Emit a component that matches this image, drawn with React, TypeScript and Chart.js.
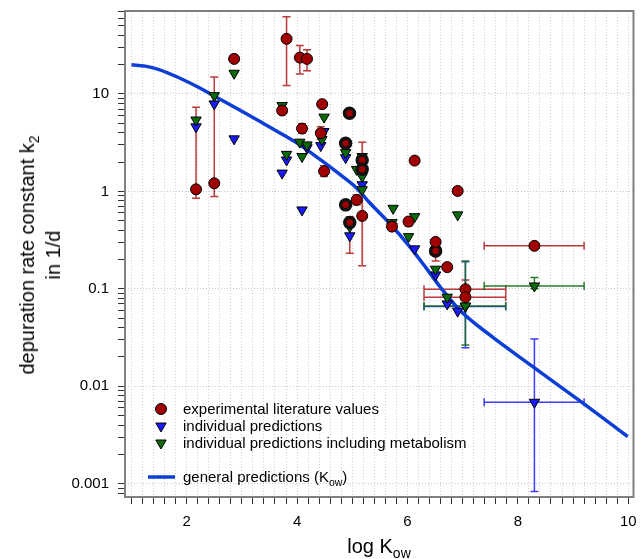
import React, { useEffect, useRef } from "react";
import { Chart, registerables } from "chart.js";
Chart.register(...registerables);

// ---------- data ----------
// experimental literature values (red circles)
const expX = [2.17, 2.5, 2.86, 3.73, 3.81, 4.05, 4.18, 4.09, 4.455, 4.43, 4.49, 5.08, 5.18, 5.72, 6.02, 6.13, 6.91, 6.51, 6.72, 7.05, 7.05, 8.3];
const expY = [1.05, 1.21, 22.9, 6.76, 36.8, 23.6, 22.9, 4.41, 7.86, 3.96, 1.61, 0.818, 0.56, 0.435, 0.49, 2.07, 1.01, 0.303, 0.167, 0.099, 0.082, 0.276];
const expYLo = [0.85, 0.885, null, null, 12.2, 16.0, 17.3, 3.95, null, 3.4, 1.42, 0.73, 0.172, 0.4, 0.44, null, null, null, null, 0.08, null, null];
const expYHi = [7.3, 14.9, null, null, 62, 31.4, 28.4, 4.95, null, 4.6, 1.83, 0.92, 3.2, 0.5, 0.54, null, null, null, null, 0.123, null, null];
const expXLo = [null, null, null, null, null, null, null, null, null, null, null, null, null, null, null, null, null, null, null, 6.3, 6.3, 7.39];
const expXHi = [null, null, null, null, null, null, null, null, null, null, null, null, null, null, null, null, null, null, null, 7.78, 7.78, 9.2];

// experimental values drawn as overlapping (dark) circles
const expDarkX = [4.95, 4.88, 4.88, 4.955, 5.18, 5.18, 6.51];
const expDarkY = [6.35, 3.12, 0.727, 0.478, 2.1, 1.69, 0.245];
const expDarkYLo = [null, null, null, 0.232, null, null, 0.193];
const expDarkYHi = [null, null, null, 0.55, null, null, 0.3];

// individual predictions (blue triangles)
const predX = [2.17, 2.5, 2.86, 3.73, 3.81, 4.09, 4.18, 4.43, 4.485, 4.88, 4.955, 5.18, 5.72, 6.13, 6.51, 6.72, 6.91, 7.05, 8.3];
const predY = [4.6, 7.9, 3.46, 1.54, 2.1, 0.645, 2.8, 2.95, 4.11, 2.22, 0.35, 1.17, 0.44, 0.257, 0.139, 0.07, 0.059, 0.066, 0.00685];
const predYLo = [null, null, null, null, null, null, null, null, null, null, null, null, null, null, null, null, null, 0.0249, 0.00083];
const predYHi = [null, null, null, null, null, null, null, null, null, null, null, null, null, null, null, null, null, 0.19, 0.0306];
const predXLo = [null, null, null, null, null, null, null, null, null, null, null, null, null, null, null, null, null, 6.3, 7.39];
const predXHi = [null, null, null, null, null, null, null, null, null, null, null, null, null, null, null, null, null, 7.78, 9.2];

// individual predictions including metabolism (green triangles)
const metX = [2.17, 2.5, 2.86, 3.73, 3.81, 4.05, 4.18, 4.09, 4.49, 4.45, 4.88, 4.955, 5.08, 5.18, 5.18, 5.18, 5.74, 5.72, 6.13, 6.02, 6.91, 6.51, 6.72, 7.05, 8.3];
const metY = [5.4, 9.6, 16.3, 7.6, 2.4, 3.2, 3.0, 2.28, 5.78, 3.4, 2.5, 0.435, 1.68, 2.28, 1.42, 1.04, 0.67, 0.478, 0.55, 0.343, 0.574, 0.159, 0.082, 0.0667, 0.107];
const metYLo = [null, null, null, null, null, null, null, null, null, null, null, null, null, null, null, null, null, null, null, null, null, null, null, 0.0265, 0.1];
const metYHi = [null, null, null, null, null, null, null, null, null, null, null, null, null, null, null, null, null, null, null, null, null, null, null, 0.193, 0.131];
const metXLo = [null, null, null, null, null, null, null, null, null, null, null, null, null, null, null, null, null, null, null, null, null, null, null, 6.3, 7.39];
const metXHi = [null, null, null, null, null, null, null, null, null, null, null, null, null, null, null, null, null, null, null, null, null, null, null, 7.78, 9.2];

// general predictions (Kow) curve
const curveX = [1.0, 1.25, 1.5, 1.88, 2.24, 2.48, 2.96, 3.33, 3.69, 4.05, 4.41, 4.77, 5.08, 5.32, 5.68, 6.04, 6.34, 6.59, 6.94, 7.49, 8.27, 9.18, 9.99];
const curveY = [19.9, 19.3, 17.8, 14.5, 11.5, 9.66, 6.84, 5.21, 3.98, 3.0, 2.14, 1.5, 1.08, 0.759, 0.468, 0.271, 0.163, 0.105, 0.061, 0.0336, 0.0159, 0.0067, 0.00304];

// axes
const xMin = 0.883;
const xMax = 10.095;
const yMin = 0.00073;
const yMax = 71;
const xTickValues = [2, 4, 6, 8, 10];
const xTickLabels = ["2", "4", "6", "8", "10"];
const yTickValues = [0.001, 0.01, 0.1, 1, 10];
const yTickLabels = ["0.001", "0.01", "0.1", "1", "10"];

// ---------- styles ----------
const RED = "#a00000";
const BLUE = "#1a1aff";
const GREEN = "#0b6b0b";
const CURVE = "#0d3fd6";
const FONT = "'Liberation Sans', Arial, sans-serif";

const pts = (xs: number[], ys: number[]) => xs.map((x, i) => ({ x, y: ys[i] }));

const errorBarPlugin = {
  id: "errorBars",
  beforeDatasetsDraw(chart: any) {
    const { ctx, scales } = chart;
    const xs = scales.x;
    const ys = scales.y;
    const cap = 4;
    chart.data.datasets.forEach((ds: any) => {
      const e = ds.errorBars;
      if (!e) return;
      ctx.save();
      ctx.strokeStyle = e.color;
      ctx.lineWidth = 1.5;
      ds.data.forEach((p: any, i: number) => {
        const px = xs.getPixelForValue(p.x);
        const py = ys.getPixelForValue(p.y);
        const lo = e.yLo ? e.yLo[i] : null;
        const hi = e.yHi ? e.yHi[i] : null;
        if (lo != null && hi != null) {
          const a = ys.getPixelForValue(lo);
          const b = ys.getPixelForValue(hi);
          ctx.beginPath();
          ctx.moveTo(px, a); ctx.lineTo(px, b);
          ctx.moveTo(px - cap, a); ctx.lineTo(px + cap, a);
          ctx.moveTo(px - cap, b); ctx.lineTo(px + cap, b);
          ctx.stroke();
        }
        const xl = e.xLo ? e.xLo[i] : null;
        const xh = e.xHi ? e.xHi[i] : null;
        if (xl != null && xh != null) {
          const a = xs.getPixelForValue(xl);
          const b = xs.getPixelForValue(xh);
          ctx.beginPath();
          ctx.moveTo(a, py); ctx.lineTo(b, py);
          ctx.moveTo(a, py - cap); ctx.lineTo(a, py + cap);
          ctx.moveTo(b, py - cap); ctx.lineTo(b, py + cap);
          ctx.stroke();
        }
      });
      ctx.restore();
    });
  },
  afterDraw(chart: any) {
    const { ctx, chartArea: a } = chart;
    ctx.save();
    ctx.strokeStyle = "#808080";
    ctx.lineWidth = 2;
    ctx.strokeRect(a.left, a.top, a.right - a.left, a.bottom - a.top);
    ctx.restore();
  },
};

const isDecade = (v: number) => {
  const l = Math.log10(v);
  return Math.abs(l - Math.round(l)) < 1e-6;
};

export default function App() {
  const ref = useRef<HTMLCanvasElement>(null);
  useEffect(() => {
    if (!ref.current) return;
    const xGrid: number[] = [];
    for (let i = 5; i <= 50; i++) xGrid.push(i / 5);
    const yGrid: number[] = [];
    for (let e = -4; e <= 1; e++) {
      for (let k = 1; k <= 9; k++) {
        const v = k * Math.pow(10, e);
        if (v >= yMin && v <= yMax) yGrid.push(v);
      }
    }
    const chart = new Chart(ref.current, {
      type: "scatter",
      data: {
        datasets: [
          {
            label: "experimental literature values",
            data: pts(expX, expY),
            backgroundColor: RED,
            borderColor: "#000",
            borderWidth: 1,
            pointRadius: 5.5,
            pointStyle: "circle",
            order: 1,
            errorBars: { color: "rgba(175,25,25,0.85)", yLo: expYLo, yHi: expYHi, xLo: expXLo, xHi: expXHi },
          } as any,
          {
            label: "experimental literature values (overlapping)",
            data: pts(expDarkX, expDarkY),
            backgroundColor: RED,
            borderColor: "#111",
            borderWidth: 3.5,
            pointRadius: 5,
            pointStyle: "circle",
            order: 1,
            errorBars: { color: "rgba(175,25,25,0.85)", yLo: expDarkYLo, yHi: expDarkYHi },
          } as any,
          {
            label: "individual predictions",
            data: pts(predX, predY),
            backgroundColor: BLUE,
            borderColor: "#000",
            borderWidth: 1,
            pointRadius: 6,
            pointStyle: "triangle",
            rotation: 180,
            order: 3,
            errorBars: { color: "rgba(40,40,255,0.9)", yLo: predYLo, yHi: predYHi, xLo: predXLo, xHi: predXHi },
          } as any,
          {
            label: "individual predictions including metabolism",
            data: pts(metX, metY),
            backgroundColor: GREEN,
            borderColor: "#000",
            borderWidth: 1,
            pointRadius: 6,
            pointStyle: "triangle",
            rotation: 180,
            order: 2,
            errorBars: { color: "rgba(20,110,20,0.9)", yLo: metYLo, yHi: metYHi, xLo: metXLo, xHi: metXHi },
          } as any,
          {
            label: "general predictions (Kow)",
            data: pts(curveX, curveY),
            showLine: true,
            borderColor: CURVE,
            borderWidth: 3.5,
            pointRadius: 0,
            cubicInterpolationMode: "monotone",
            order: 4,
          } as any,
        ],
      },
      options: {
        animation: false,
        responsive: false,
        devicePixelRatio: 1,
        layout: { padding: { top: 11, right: 8, left: 0, bottom: 0 } },
        plugins: { legend: { display: false }, tooltip: { enabled: false } },
        scales: {
          x: {
            type: "linear",
            min: xMin,
            max: xMax,
            afterBuildTicks: (s: any) => {
              s.ticks = xGrid.map((v) => ({ value: v }));
            },
            afterFit: (s: any) => {
              s.height = 62;
              s.paddingLeft = 0;
              s.paddingRight = 0;
            },
            ticks: {
              autoSkip: false,
              maxRotation: 0,
              padding: 9,
              color: "#000",
              font: { family: FONT, size: 15 },
              callback: (v: any) => {
                const idx = xTickValues.findIndex((t) => Math.abs(t - v) < 1e-6);
                return idx >= 0 ? xTickLabels[idx] : "";
              },
            },
            grid: {
              color: "#cfcfcf",
              lineWidth: 1,
              drawTicks: true,
              tickLength: 7,
              tickColor: "#333",
              tickWidth: 1,
            },
            border: { display: false, dash: [1, 2] },
          },
          y: {
            type: "logarithmic",
            min: yMin,
            max: yMax,
            afterBuildTicks: (s: any) => {
              s.ticks = yGrid.map((v) => ({ value: v }));
            },
            afterFit: (s: any) => {
              s.width = 125;
              s.paddingTop = 0;
              s.paddingBottom = 0;
            },
            ticks: {
              autoSkip: false,
              padding: 9,
              color: "#000",
              font: { family: FONT, size: 15 },
              callback: (v: any) => {
                const idx = yTickValues.findIndex((t) => Math.abs(t - v) / t < 1e-6);
                return idx >= 0 ? yTickLabels[idx] : "";
              },
            },
            grid: {
              color: (c: any) => (c.tick && isDecade(c.tick.value) ? "#c8c8c8" : "rgba(0,0,0,0)"),
              lineWidth: 1,
              drawTicks: true,
              tickLength: 7,
              tickColor: "#333",
              tickWidth: 1,
            },
            border: { display: false, dash: [1, 2] },
          },
        },
      },
      plugins: [errorBarPlugin],
    } as any);
    return () => chart.destroy();
  }, []);

  const txt: React.CSSProperties = {
    position: "absolute",
    fontFamily: FONT,
    fontSize: 15,
    color: "#000",
    whiteSpace: "nowrap",
    lineHeight: "18px",
  };
  const subS: React.CSSProperties = { fontSize: "0.7em", verticalAlign: "baseline", position: "relative", top: "0.35em" };

  return (
    <div style={{ position: "absolute", left: 0, top: 0, width: 642, height: 559, background: "#fff" }}>
      <canvas ref={ref} width={642} height={559} style={{ width: 642, height: 559, display: "block" }} />
      {/* y axis title */}
      <div
        style={{
          ...txt,
          fontSize: 20,
          lineHeight: "24px",
          left: 40,
          top: 255,
          textAlign: "center",
          transform: "translate(-50%, -50%) rotate(-90deg)",
        }}
      >
        depuration rate constant k<span style={subS}>2</span>
        <br />
        in 1/d
      </div>
      {/* x axis title */}
      <div style={{ ...txt, fontSize: 20, lineHeight: "24px", left: 379, top: 547, transform: "translate(-50%, -50%)" }}>
        log K<span style={subS}>ow</span>
      </div>
      {/* legend */}
      <svg style={{ position: "absolute", left: 0, top: 0, pointerEvents: "none" }} width={642} height={559}>
        <circle cx={161} cy={409} r={5.5} fill={RED} stroke="#000" strokeWidth={1} />
        <polygon points="155.8,423 166.2,423 161,432" fill={BLUE} stroke="#000" strokeWidth={1} />
        <polygon points="155.8,440 166.2,440 161,449" fill={GREEN} stroke="#000" strokeWidth={1} />
        <line x1={148} y1={477} x2={175} y2={477} stroke={CURVE} strokeWidth={3.5} />
      </svg>
      <div style={{ ...txt, left: 183, top: 400 }}>experimental literature values</div>
      <div style={{ ...txt, left: 183, top: 417 }}>individual predictions</div>
      <div style={{ ...txt, left: 183, top: 434 }}>individual predictions including metabolism</div>
      <div style={{ ...txt, left: 183, top: 468 }}>
        general predictions (K<span style={subS}>ow</span>)
      </div>
    </div>
  );
}
